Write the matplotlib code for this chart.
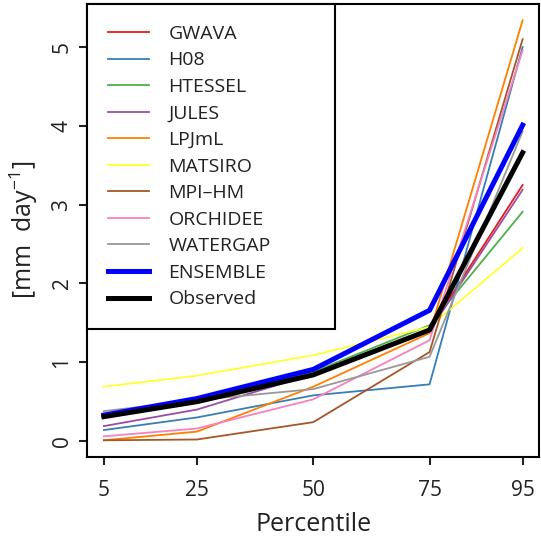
import numpy as np
import matplotlib
matplotlib.use("Agg")
import matplotlib.pyplot as plt

plt.rcParams['font.family'] = ['Open Sans', 'DejaVu Sans']
plt.rcParams['mathtext.default'] = 'regular'

percentiles = [5, 25, 50, 75, 95]

models = ["GWAVA", "H08", "HTESSEL", "JULES", "LPJmL", "MATSIRO", "MPI\u2013HM", "ORCHIDEE", "WATERGAP"]
model_colors = ["#E41A1C", "#377EB8", "#4DAF4A", "#984EA3", "#FF7F00", "#FFFF33", "#A65628", "#F781BF", "#999999"]

gwava = [0.32, 0.50, 0.86, 1.42, 3.25]
h08 = [0.14, 0.30, 0.58, 0.72, 5.00]
htessel = [0.33, 0.52, 0.88, 1.47, 2.91]
jules = [0.19, 0.40, 0.85, 1.40, 3.19]
lpjml = [0.01, 0.12, 0.69, 1.37, 5.34]
matsiro = [0.69, 0.83, 1.09, 1.45, 2.45]
mpihm = [0.01, 0.02, 0.24, 1.13, 5.10]
orchidee = [0.06, 0.16, 0.53, 1.28, 4.96]
watergap = [0.38, 0.52, 0.66, 1.07, 3.93]
ensemble = [0.33, 0.54, 0.91, 1.66, 4.01]
observed = [0.31, 0.50, 0.84, 1.41, 3.66]

model_values = [gwava, h08, htessel, jules, lpjml, matsiro, mpihm, orchidee, watergap]

fig = plt.figure(figsize=(5.41, 5.40), dpi=100)
ax = fig.add_axes([0.161, 0.154, 0.836, 0.839])

for name, vals, c in zip(models, model_values, model_colors):
    ax.plot(percentiles, vals, color=c, lw=1.3, label=name)
ax.plot(percentiles, ensemble, color="#0000FF", lw=3.6, label="ENSEMBLE")
ax.plot(percentiles, observed, color="black", lw=3.6, label="Observed")

ax.set_xlim(1.4, 98.6)
ax.set_ylim(-0.2, 5.55)
ax.set_xticks(percentiles)
ax.set_yticks([0, 1, 2, 3, 4, 5])
for s in ax.spines.values():
    s.set_linewidth(1.5)
ax.tick_params(axis='both', direction='out', length=5.5, width=1.5, labelsize=15, colors='#222222')
ax.tick_params(axis='x', pad=11)
ax.tick_params(axis='y', pad=5, labelrotation=90)
for lab in ax.get_yticklabels():
    lab.set_va('center')

ax.set_xlabel("Percentile", fontsize=18, color='#222222', labelpad=8)
ax.set_ylabel("[mm  day$^{-1}$]", fontsize=18, color='#222222', labelpad=8)

leg = ax.legend(loc='upper left', bbox_to_anchor=(0, 0, 0.549, 1), mode='expand',
                borderaxespad=0, fontsize=14, frameon=True, fancybox=False,
                handlelength=2.1, handletextpad=1.0, labelspacing=0.44, borderpad=1.08)
leg.get_frame().set_edgecolor('black')
leg.get_frame().set_linewidth(1.5)
leg.get_frame().set_alpha(1)
for t in leg.get_texts():
    t.set_color('#222222')

fig.savefig("out.png", dpi=100)
